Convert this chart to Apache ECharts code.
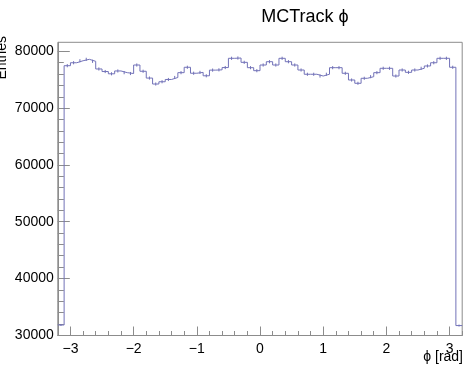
<!DOCTYPE html>
<html>
<head>
<meta charset="utf-8">
<script src="https://cdn.jsdelivr.net/npm/echarts@6/dist/echarts.min.js"></script>
<style>
  html, body { margin: 0; padding: 0; background: #ffffff; }
  #chart { width: 468px; height: 368px; }
</style>
</head>
<body>
<div id="chart"></div>
<script>
// MCTrack phi histogram: 64 bins of 0.1 rad covering [-3.2, 3.2]
const binLow = -3.2;
const binHigh = 3.2;
const binWidth = 0.1;
const entries = [
  31800, 77480, 78000, 78350, 78600, 78250, 76900, 76450, 76050, 76550,
  76250, 76100, 77600, 76500, 75300, 74250, 74650, 75050, 75400, 76250,
  77200, 76150, 76300, 75700, 76700, 76750, 77150, 78780, 78830, 78070,
  77130, 76600, 77600, 78180, 77600, 78780, 78180, 77600, 76720, 75970,
  75970, 75660, 75970, 77130, 77130, 76140, 74960, 74380, 75260, 75540,
  76250, 77020, 77020, 75660, 76720, 76310, 76720, 77020, 77430, 78000,
  78780, 78780, 77200, 31700
];

// Axis ranges and tick labels
const yMin = 29950;
const yMax = 81600;
const xMajorTicks = [-3, -2, -1, 0, 1, 2, 3];
const yMajorTicks = [30000, 40000, 50000, 60000, 70000, 80000];
const yMinorStep = 2000;

const titleText = 'MCTrack \u03D5';
const xTitle = '\u03D5 [rad]';
const yTitle = 'Entries';

const FONT = '"Liberation Sans", Arial, Helvetica, sans-serif';
const AXIS_GREY = '#8c8c8c';
const LINE_COLOR = '#7272b8';

// Step outline points: left edge of each bin, plus closing right edge
const stepPoints = entries.map((v, i) => [binLow + i * binWidth, v]);
stepPoints.push([binHigh, entries[entries.length - 1]]);

// Error bars at bin centres (Poisson sqrt(N))
const errPoints = entries.map((v, i) => [binLow + (i + 0.5) * binWidth, v, Math.sqrt(v)]);

const yMinorTicks = [];
for (let t = yMajorTicks[0]; t <= yMajorTicks[yMajorTicks.length - 1]; t += yMinorStep) yMinorTicks.push(t);

const fmtX = v => (v < 0 ? '\u2212' + (-v) : String(v));

const chart = echarts.init(document.getElementById('chart'), null, { renderer: 'canvas' });

chart.setOption({
  animation: false,
  backgroundColor: '#ffffff',
  grid: {
    left: 57.8, right: 5.8, top: 42.3, bottom: 32.5,
    show: true, borderColor: AXIS_GREY, borderWidth: 1, backgroundColor: 'transparent'
  },
  graphic: [
    {
      type: 'text', x: 305, y: 17,
      style: { text: titleText, font: '18px ' + FONT, fill: '#000', align: 'center', verticalAlign: 'middle' }
    },
    {
      type: 'text', x: 463, y: 357,
      style: { text: xTitle, font: '14px ' + FONT, fill: '#000', align: 'right', verticalAlign: 'middle' }
    },
    {
      type: 'text', x: 2, y: 36, rotation: Math.PI / 2,
      style: { text: yTitle, font: '14px ' + FONT, fill: '#000', align: 'right', verticalAlign: 'middle' }
    }
  ],
  xAxis: [
    {
      type: 'value', min: binLow, max: binHigh, position: 'bottom',
      axisLine: { show: true, onZero: false, lineStyle: { color: AXIS_GREY, width: 1 } },
      axisTick: { show: true, inside: true, length: 9, customValues: xMajorTicks, lineStyle: { color: AXIS_GREY } },
      axisLabel: { show: true, customValues: xMajorTicks, formatter: fmtX, color: '#000', fontSize: 14, fontFamily: FONT, margin: 7 },
      splitLine: { show: false }
    },
    {
      type: 'value', min: binLow, max: binHigh, interval: 0.2, position: 'bottom',
      axisLine: { show: false, onZero: false },
      axisTick: { show: true, inside: true, length: 4.5, lineStyle: { color: AXIS_GREY } },
      axisLabel: { show: false },
      splitLine: { show: false }
    }
  ],
  yAxis: [
    {
      type: 'value', min: yMin, max: yMax, position: 'left',
      axisLine: { show: true, onZero: false, lineStyle: { color: AXIS_GREY, width: 1 } },
      axisTick: { show: true, inside: true, length: 12, customValues: yMajorTicks, lineStyle: { color: AXIS_GREY } },
      axisLabel: { show: true, customValues: yMajorTicks, formatter: v => String(v), color: '#000', fontSize: 14, fontFamily: FONT, margin: 4 },
      splitLine: { show: false }
    },
    {
      type: 'value', min: yMin, max: yMax, position: 'left',
      axisLine: { show: false, onZero: false },
      axisTick: { show: true, inside: true, length: 6, customValues: yMinorTicks, lineStyle: { color: AXIS_GREY } },
      axisLabel: { show: false },
      splitLine: { show: false }
    }
  ],
  series: [
    {
      type: 'line', xAxisIndex: 0, yAxisIndex: 0,
      data: stepPoints, step: 'end', showSymbol: false, symbol: 'none',
      lineStyle: { color: LINE_COLOR, width: 1 }, clip: true, silent: true
    },
    {
      type: 'custom', xAxisIndex: 0, yAxisIndex: 0, silent: true,
      data: errPoints,
      renderItem: (params, api) => {
        const x = api.value(0), v = api.value(1), e = api.value(2);
        const p1 = api.coord([x, v - e]);
        const p2 = api.coord([x, v + e]);
        return {
          type: 'line',
          shape: { x1: p1[0], y1: p1[1], x2: p2[0], y2: p2[1] },
          style: { stroke: LINE_COLOR, lineWidth: 1 }
        };
      }
    }
  ]
});
</script>
</body>
</html>
